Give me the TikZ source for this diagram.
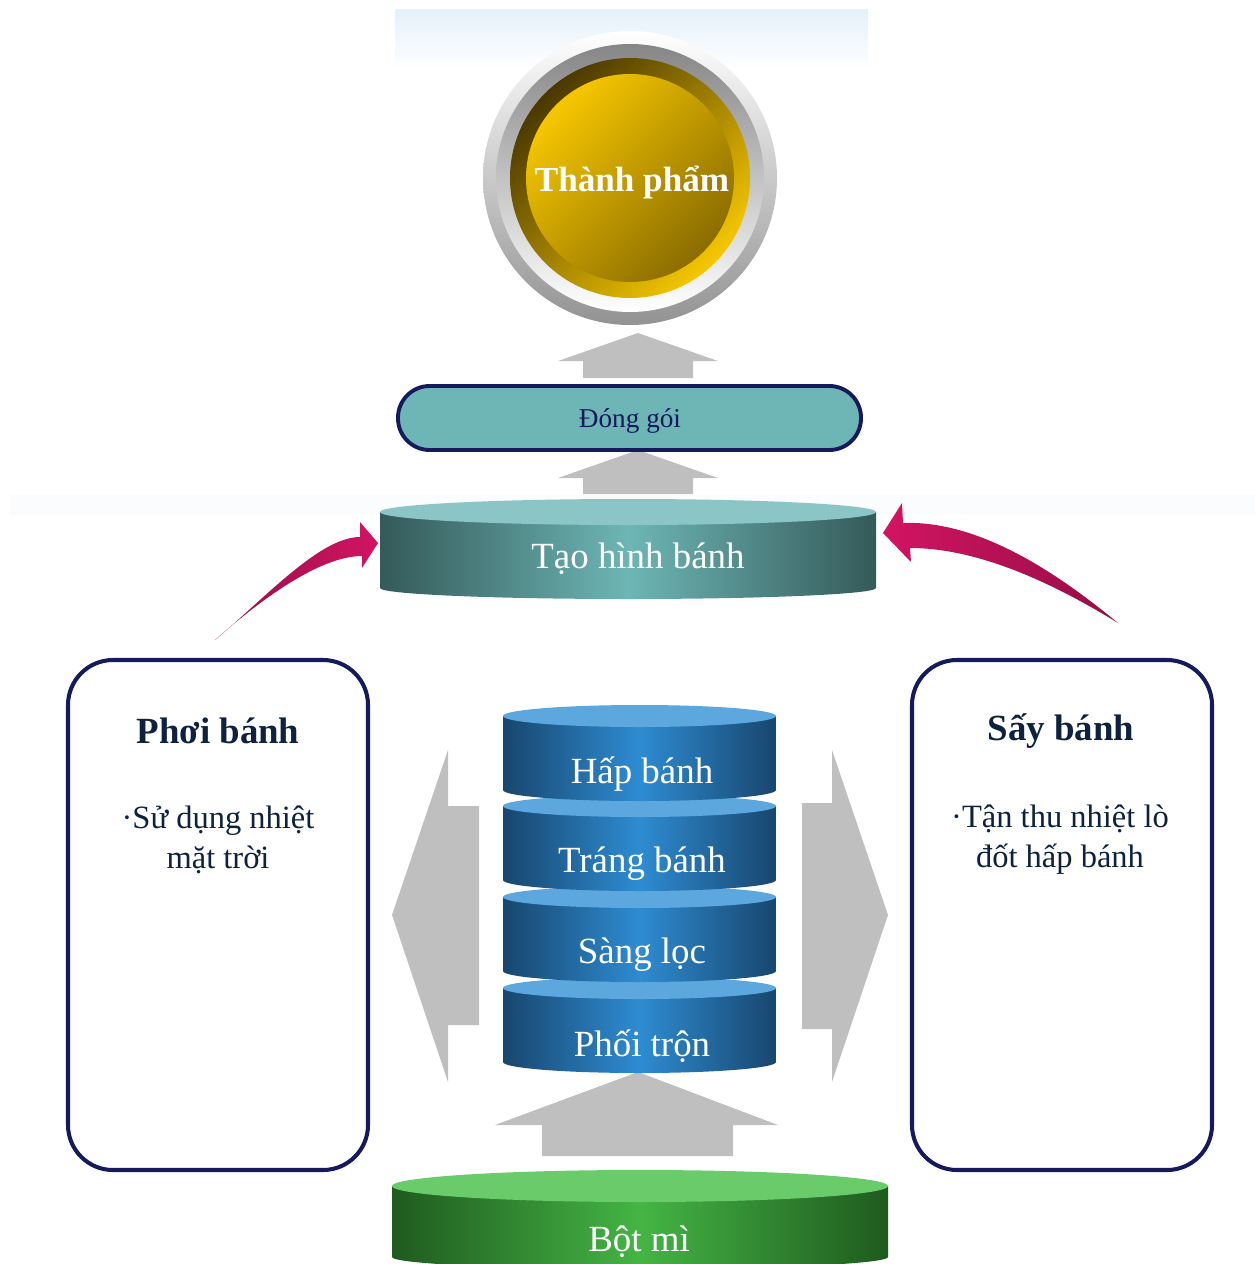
\documentclass[tikz,border=0pt]{standalone}
\usepackage{fontspec}
\setmainfont{Liberation Serif}
\definecolor{navy}{RGB}{20,26,92}
\definecolor{inkblue}{RGB}{14,34,64}
\definecolor{tealdk}{RGB}{52,90,89}
\definecolor{tealmd}{RGB}{109,182,181}
\definecolor{tealtp}{RGB}{140,197,197}
\definecolor{bluedk}{RGB}{24,70,110}
\definecolor{bluemd}{RGB}{46,140,210}
\definecolor{bluetp}{RGB}{91,167,222}
\definecolor{greendk}{RGB}{31,90,31}
\definecolor{greenmd}{RGB}{68,181,68}
\definecolor{greentp}{RGB}{106,203,106}
\definecolor{golddk}{RGB}{74,56,0}
\definecolor{goldlt}{RGB}{246,199,0}
\definecolor{goldbr}{RGB}{139,108,0}
\definecolor{arrowgray}{RGB}{191,191,191}
\definecolor{crimson}{RGB}{210,20,98}
\definecolor{crimsondk}{RGB}{150,14,70}
\definecolor{skyband}{RGB}{228,241,250}
\definecolor{paleband}{RGB}{250,252,254}

\begin{document}
\begin{tikzpicture}[x=0.02cm, y=0.02cm,
  blockarrow/.style={fill=arrowgray},
  sidebox/.style={draw=navy, line width=2.3pt, rounded corners=0.9cm, fill=white},
  drumtext/.style={text=white, font=\fontsize{21}{25}\selectfont},
  boxtitle/.style={text=inkblue, font=\bfseries\fontsize{21}{25}\selectfont},
  boxbody/.style={text=inkblue, align=center, font=\fontsize{18.5}{22.8}\selectfont}]
\useasboundingbox (0,0) rectangle (1255,-1264);

% light bands behind
\shade [top color=skyband, bottom color=white] (395,-10) rectangle (868,-70);
\fill [paleband] (10,-495) rectangle (1255,-515);

% finished product button
\coordinate (C) at (630,-178);
\shade [top color=white, bottom color=gray!85] (C) circle (147);
\shade [top color=gray!95, bottom color=white] (C) circle (134);
\shade [top color=golddk, bottom color=goldlt, shading angle=45] (C) circle (120);
\shade [top color=goldlt, bottom color=goldbr, shading angle=45] (C) circle (104);
\node [text=white, font=\bfseries\fontsize{20}{24}\selectfont] (product) at (632,-182) {Thành phẩm};

% grey block arrows
\fill [blockarrow] (583,-378) -- (583,-361) -- (558,-361) -- (638,-333) -- (718,-361) -- (693,-361) -- (693,-378) -- cycle;
\fill [blockarrow] (583,-494) -- (583,-478) -- (558,-478) -- (638,-450) -- (718,-478) -- (693,-478) -- (693,-494) -- cycle;
\fill [blockarrow] (542,-1156) -- (542,-1125) -- (495,-1125) -- (638,-1072) -- (778,-1125) -- (733,-1125) -- (733,-1156) -- cycle;
\fill [blockarrow] (479,-806) -- (448,-806) -- (448,-750) -- (392,-915) -- (448,-1082) -- (448,-1025) -- (479,-1025) -- cycle;
\fill [blockarrow] (802,-803) -- (832,-803) -- (832,-750) -- (888,-915) -- (832,-1082) -- (832,-1029) -- (802,-1029) -- cycle;

% packing
\draw [draw=navy, line width=2.2pt, fill=tealmd, rounded corners=18pt] (398,-386) rectangle (861,-450);
\node [text=navy, font=\fontsize{15.5}{18}\selectfont] (pack) at (630,-421) {Đóng gói};

% shaping drum
\shade [left color=tealdk, right color=tealdk, middle color=tealmd] (380,-512) -- (380,-588) arc [start angle=180, end angle=360, x radius=248, y radius=11] -- (876,-512) -- cycle;
\fill [tealtp] (628,-512) ellipse [x radius=248, y radius=13];
\node [drumtext] (shape) at (638,-559) {Tạo hình bánh};

% curved arrows into the drum
\shade [left color=crimsondk, right color=crimson] (215,-640) .. controls (265,-598) and (320,-537) .. (360,-537) -- (360,-522) -- (378,-543) -- (362,-568) -- (362,-556) .. controls (320,-556) and (260,-600) .. (215,-640) -- cycle;
\shade [left color=crimson, right color=crimsondk] (1118,-623) .. controls (1060,-575) and (980,-520) .. (903,-523) -- (902,-503) -- (883,-533) -- (911,-562) -- (910,-548) .. controls (970,-548) and (1040,-575) .. (1118,-623) -- cycle;

% side boxes
\draw [sidebox] (68,-660) rectangle (368,-1170);
\node [boxtitle] (sun) at (218,-731) {Phơi bánh};
\node [boxbody] (sunnote) at (218,-840) {·Sử dụng nhiệt\\mặt trời};
\draw [sidebox] (912,-660) rectangle (1212,-1170);
\node [boxtitle] (dry) at (1061,-731) {Sấy bánh};
\node [boxbody] (drynote) at (1060,-840) {·Tận thu nhiệt lò\\đốt hấp bánh};

% stacked steps
\foreach \name/\yt/\txt in {mix/988/Phối trộn, sift/897/Sàng lọc, coat/806/Tráng bánh, steam/716/Hấp bánh} {
  \shade [left color=bluedk, right color=bluedk, middle color=bluemd] (503,-\yt) -- (503,-\yt-74) arc [start angle=180, end angle=360, x radius=136.5, y radius=11] -- (776,-\yt) -- cycle;
  \fill [bluetp] (639.5,-\yt) ellipse [x radius=136.5, y radius=11];
  \node [drumtext] (\name) at (642,-\yt-58) {\txt};
}

% flour drum
\shade [left color=greendk, right color=greendk, middle color=greenmd] (392,-1186) -- (392,-1257) arc [start angle=180, end angle=360, x radius=248, y radius=12] -- (888,-1186) -- cycle;
\fill [greentp] (640,-1186) ellipse [x radius=248, y radius=16];
\node [drumtext] (flour) at (639,-1242) {Bột mì};
\end{tikzpicture}
\end{document}
